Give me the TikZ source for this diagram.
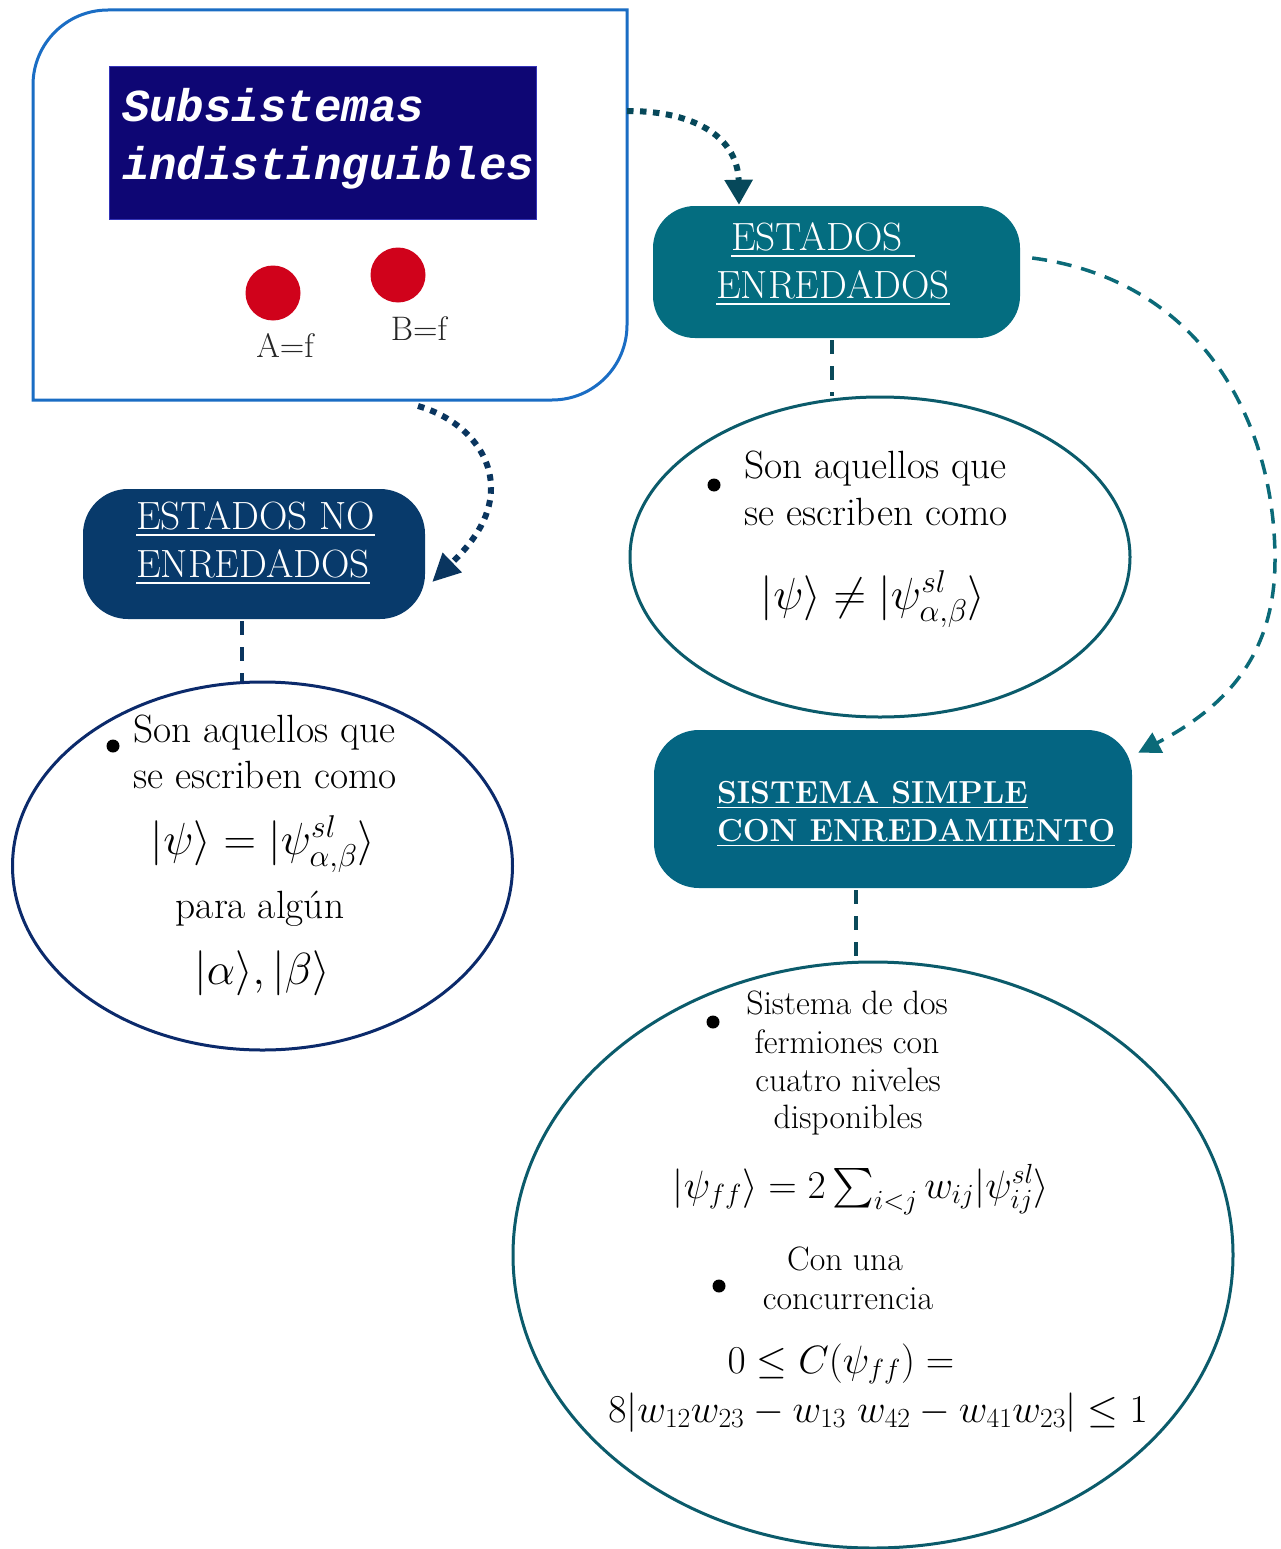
\RequirePackage{fix-cm}
\documentclass[tikz,border=0pt]{standalone}
\usepackage{exscale}
\DeclareFontShape{OMX}{cmex}{m}{n}{<-> cmex10}{}
\usepackage{fontspec}
\setmainfont{Latin Modern Roman}
\newfontfamily\titlefont{Liberation Mono}
\usetikzlibrary{shapes.geometric,arrows.meta}
\definecolor{outerblue}{HTML}{1A6DC4}
\definecolor{titlefill}{HTML}{0E0674}
\definecolor{titleedge}{HTML}{3434B8}
\definecolor{ballred}{HTML}{D0021B}
\definecolor{eefill}{HTML}{046D80}
\definecolor{nefill}{HTML}{083A6B}
\definecolor{ssfill}{HTML}{046582}
\definecolor{ellteal}{HTML}{0B5B6B}
\definecolor{ellnavy}{HTML}{0B2A6B}
\definecolor{arrA}{HTML}{06485A}
\definecolor{arrB}{HTML}{0A355F}
\definecolor{arrC}{HTML}{0B6A78}
\definecolor{lineA}{HTML}{0A4A5A}
\newcommand\mysizeA{\fontsize{39.4}{48}\selectfont}
\newcommand\mysizeB{\fontsize{33.8}{38}\selectfont}
\newcommand\mysizeC{\fontsize{31.8}{38}\selectfont}
\newcommand\mysizeM{\fontsize{45}{52}\selectfont}
\newcommand\mysizeN{\fontsize{39.5}{45}\selectfont}
\begin{document}
\begin{tikzpicture}[x=1pt,y=-1pt,
  txt/.style={inner sep=0pt,outer sep=0pt},
  titletxt/.style={txt,text=white,font=\titlefont\bfseries\itshape\fontsize{45.8}{58}\selectfont},
  boxtxt/.style={txt,text=white,font=\mysizeA},
  boxbold/.style={txt,text=white,font=\mysizeC\bfseries},
  ltxt/.style={txt,text=black,font=\mysizeA},
  stxt/.style={txt,text=black,font=\mysizeB},
  mtxt/.style={txt,text=black,font=\mysizeM},
  ntxt/.style={txt,text=black,font=\mysizeN},
  lbl/.style={txt,text=black!85,font=\fontsize{34}{38}\selectfont},
  redball/.style={circle,fill=ballred,minimum size=55pt,inner sep=0pt},
  bul/.style={circle,fill=black,minimum size=13pt,inner sep=0pt},
  ebox/.style={rectangle,inner sep=0pt},
  ell/.style={ellipse,line width=3pt,inner sep=0pt,fill=white},
  outerline/.style={draw=outerblue,line width=3pt},
  dotarrow/.style={line width=6pt,dash pattern=on 6.5pt off 6.5pt},
  dashline/.style={line width=3.5pt,dash pattern=on 14pt off 12pt},
  dasharrow/.style={line width=3.5pt,dash pattern=on 15pt off 10pt}
]
\fill[white] (0,0) rectangle (1280,1549);
\useasboundingbox (0,0) rectangle (1280,1549);

% outer frame
\node[txt,minimum width=594pt,minimum height=390pt] (sub) at (330,205) {};
\draw[outerline] (sub.south west) -- ([yshift=-75pt]sub.north west)
  arc[start angle=180,end angle=90,radius=75pt] -- (sub.north east)
  -- ([yshift=75pt]sub.south east)
  arc[start angle=0,end angle=-90,radius=75pt] -- cycle;

% title
\node[rectangle,fill=titlefill,draw=titleedge,line width=1pt,minimum width=427pt,minimum height=152pt,inner sep=0pt] (tb) at (322.5,143) {};
\node[titletxt,anchor=base west] (tb1) at (122,122) {Subsistemas};
\node[titletxt,anchor=base west] (tb2) at (122,180) {indistinguibles};

\node[redball] (ca) at (273,293) {};
\node[redball] (cb) at (398,275) {};
\node[lbl,anchor=base] (la) at (285,357) {A=f};
\node[lbl,anchor=base] (lb) at (419,340) {B=f};

% boxes
\node[ebox,fill=eefill,minimum width=367pt,minimum height=132pt,rounded corners=42pt] (ee) at (836.5,272) {};
\node[boxtxt,anchor=base west] (ee1) at (731,250) {\underline{ESTADOS\ }};
\node[boxtxt,anchor=base west] (ee2) at (716,298) {\underline{ENREDADOS}};

\node[ebox,fill=nefill,minimum width=342pt,minimum height=130pt,rounded corners=45pt] (ne) at (254,554) {};
\node[boxtxt,anchor=base west] (ne1) at (136,529) {\underline{ESTADOS NO}};
\node[boxtxt,anchor=base west] (ne2) at (136,577) {\underline{ENREDADOS}};

\node[ebox,fill=ssfill,minimum width=478pt,minimum height=158pt,rounded corners=45pt] (ss) at (893,809) {};
\node[boxbold,anchor=base west] (ss1) at (717,803) {\underline{SISTEMA SIMPLE}};
\node[boxbold,anchor=base west] (ss2) at (717,841) {\underline{CON ENREDAMIENTO}};

% ellipses
\node[ell,draw=ellteal,minimum width=500pt,minimum height=320pt] (e1) at (880,557) {};
\node[bul] (b1) at (714,485) {};
\node[ltxt,anchor=base west] (e1a) at (744,478) {Son aquellos que};
\node[ltxt,anchor=base west] (e1b) at (744,525) {se escriben como};
\node[mtxt,anchor=base] (e1m) at (873,609) {$|\psi\rangle \neq |\psi^{sl}_{\alpha,\beta}\rangle$};

\node[ell,draw=ellnavy,minimum width=500pt,minimum height=368pt] (e2) at (262.5,866) {};
\node[bul] (b2) at (113,746) {};
\node[ltxt,anchor=base west] (e2a) at (133,742) {Son aquellos que};
\node[ltxt,anchor=base west] (e2b) at (133,788) {se escriben como};
\node[mtxt,anchor=base] (e2m) at (263,854) {$|\psi\rangle = |\psi^{sl}_{\alpha,\beta}\rangle$};
\node[ltxt,anchor=base] (e2c) at (260,918) {para algún};
\node[mtxt,anchor=base] (e2n) at (262,984) {$|\alpha\rangle,|\beta\rangle$};

\node[ell,draw=ellteal,minimum width=720pt,minimum height=586pt] (e3) at (873,1255) {};
\node[bul] (b3) at (713,1022) {};
\node[stxt,anchor=base] (e3a) at (847,1014) {Sistema de dos};
\node[stxt,anchor=base] (e3b) at (847,1053) {fermiones con};
\node[stxt,anchor=base] (e3c) at (848,1091) {cuatro niveles};
\node[stxt,anchor=base] (e3d) at (848,1128) {disponibles};
\node[ntxt,anchor=base] (e3m) at (861,1198) {$|\psi_{ff}\rangle = 2\sum_{i<j} w_{ij}|\psi^{sl}_{ij}\rangle$};
\node[bul] (b4) at (719,1286) {};
\node[stxt,anchor=base] (e3e) at (845,1270) {Con una};
\node[stxt,anchor=base] (e3f) at (848,1309) {concurrencia};
\node[ntxt,anchor=base] (e3n) at (841,1373) {$0 \leq C(\psi_{ff}) =$};
\node[ntxt,anchor=base] (e3o) at (878,1422) {$8|w_{12}w_{23} - w_{13}\;w_{42} - w_{41}w_{23}| \leq 1$};

% connectors
\draw[dotarrow,draw=arrA,-{Triangle[length=25pt,width=27pt]}]
  ([yshift=-101pt]sub.north east) .. controls +(72,0) and +(-1,-65) .. ([xshift=-97.5pt,yshift=1pt]ee.north);

\draw[dotarrow,draw=arrB,-{Triangle[length=28pt,width=26pt]}]
  ([xshift=88pt,yshift=-6pt]sub.south) .. controls +(42,12) and +(0,-38) .. (491,488)
  .. controls +(0,32) and +(38,-37) .. ([xshift=7pt,yshift=-28pt]ne.east);

\draw[dasharrow,draw=arrC,-{Triangle[length=22pt,width=22pt]}]
  ([xshift=12pt,yshift=14pt]ee.east) .. controls +(168,22) and +(0,-140) .. (1275,560)
  .. controls +(0,100) and +(82,-43) .. ([xshift=6pt,yshift=-23pt]ss.north east);

\coordinate (l1a) at ([xshift=-4.5pt,yshift=-2pt]ee.south);
\draw[dashline,draw=lineA] (l1a) -- (l1a |- e1.north);
\coordinate (l2a) at ([xshift=-12pt,yshift=-2pt]ne.south);
\draw[dashline,draw=arrB] (l2a) -- (l2a |- e2.north);
\coordinate (l3a) at ([xshift=-37pt,yshift=-2pt]ss.south);
\draw[dashline,draw=lineA] (l3a) -- (l3a |- e3.north);
\end{tikzpicture}
\end{document}
